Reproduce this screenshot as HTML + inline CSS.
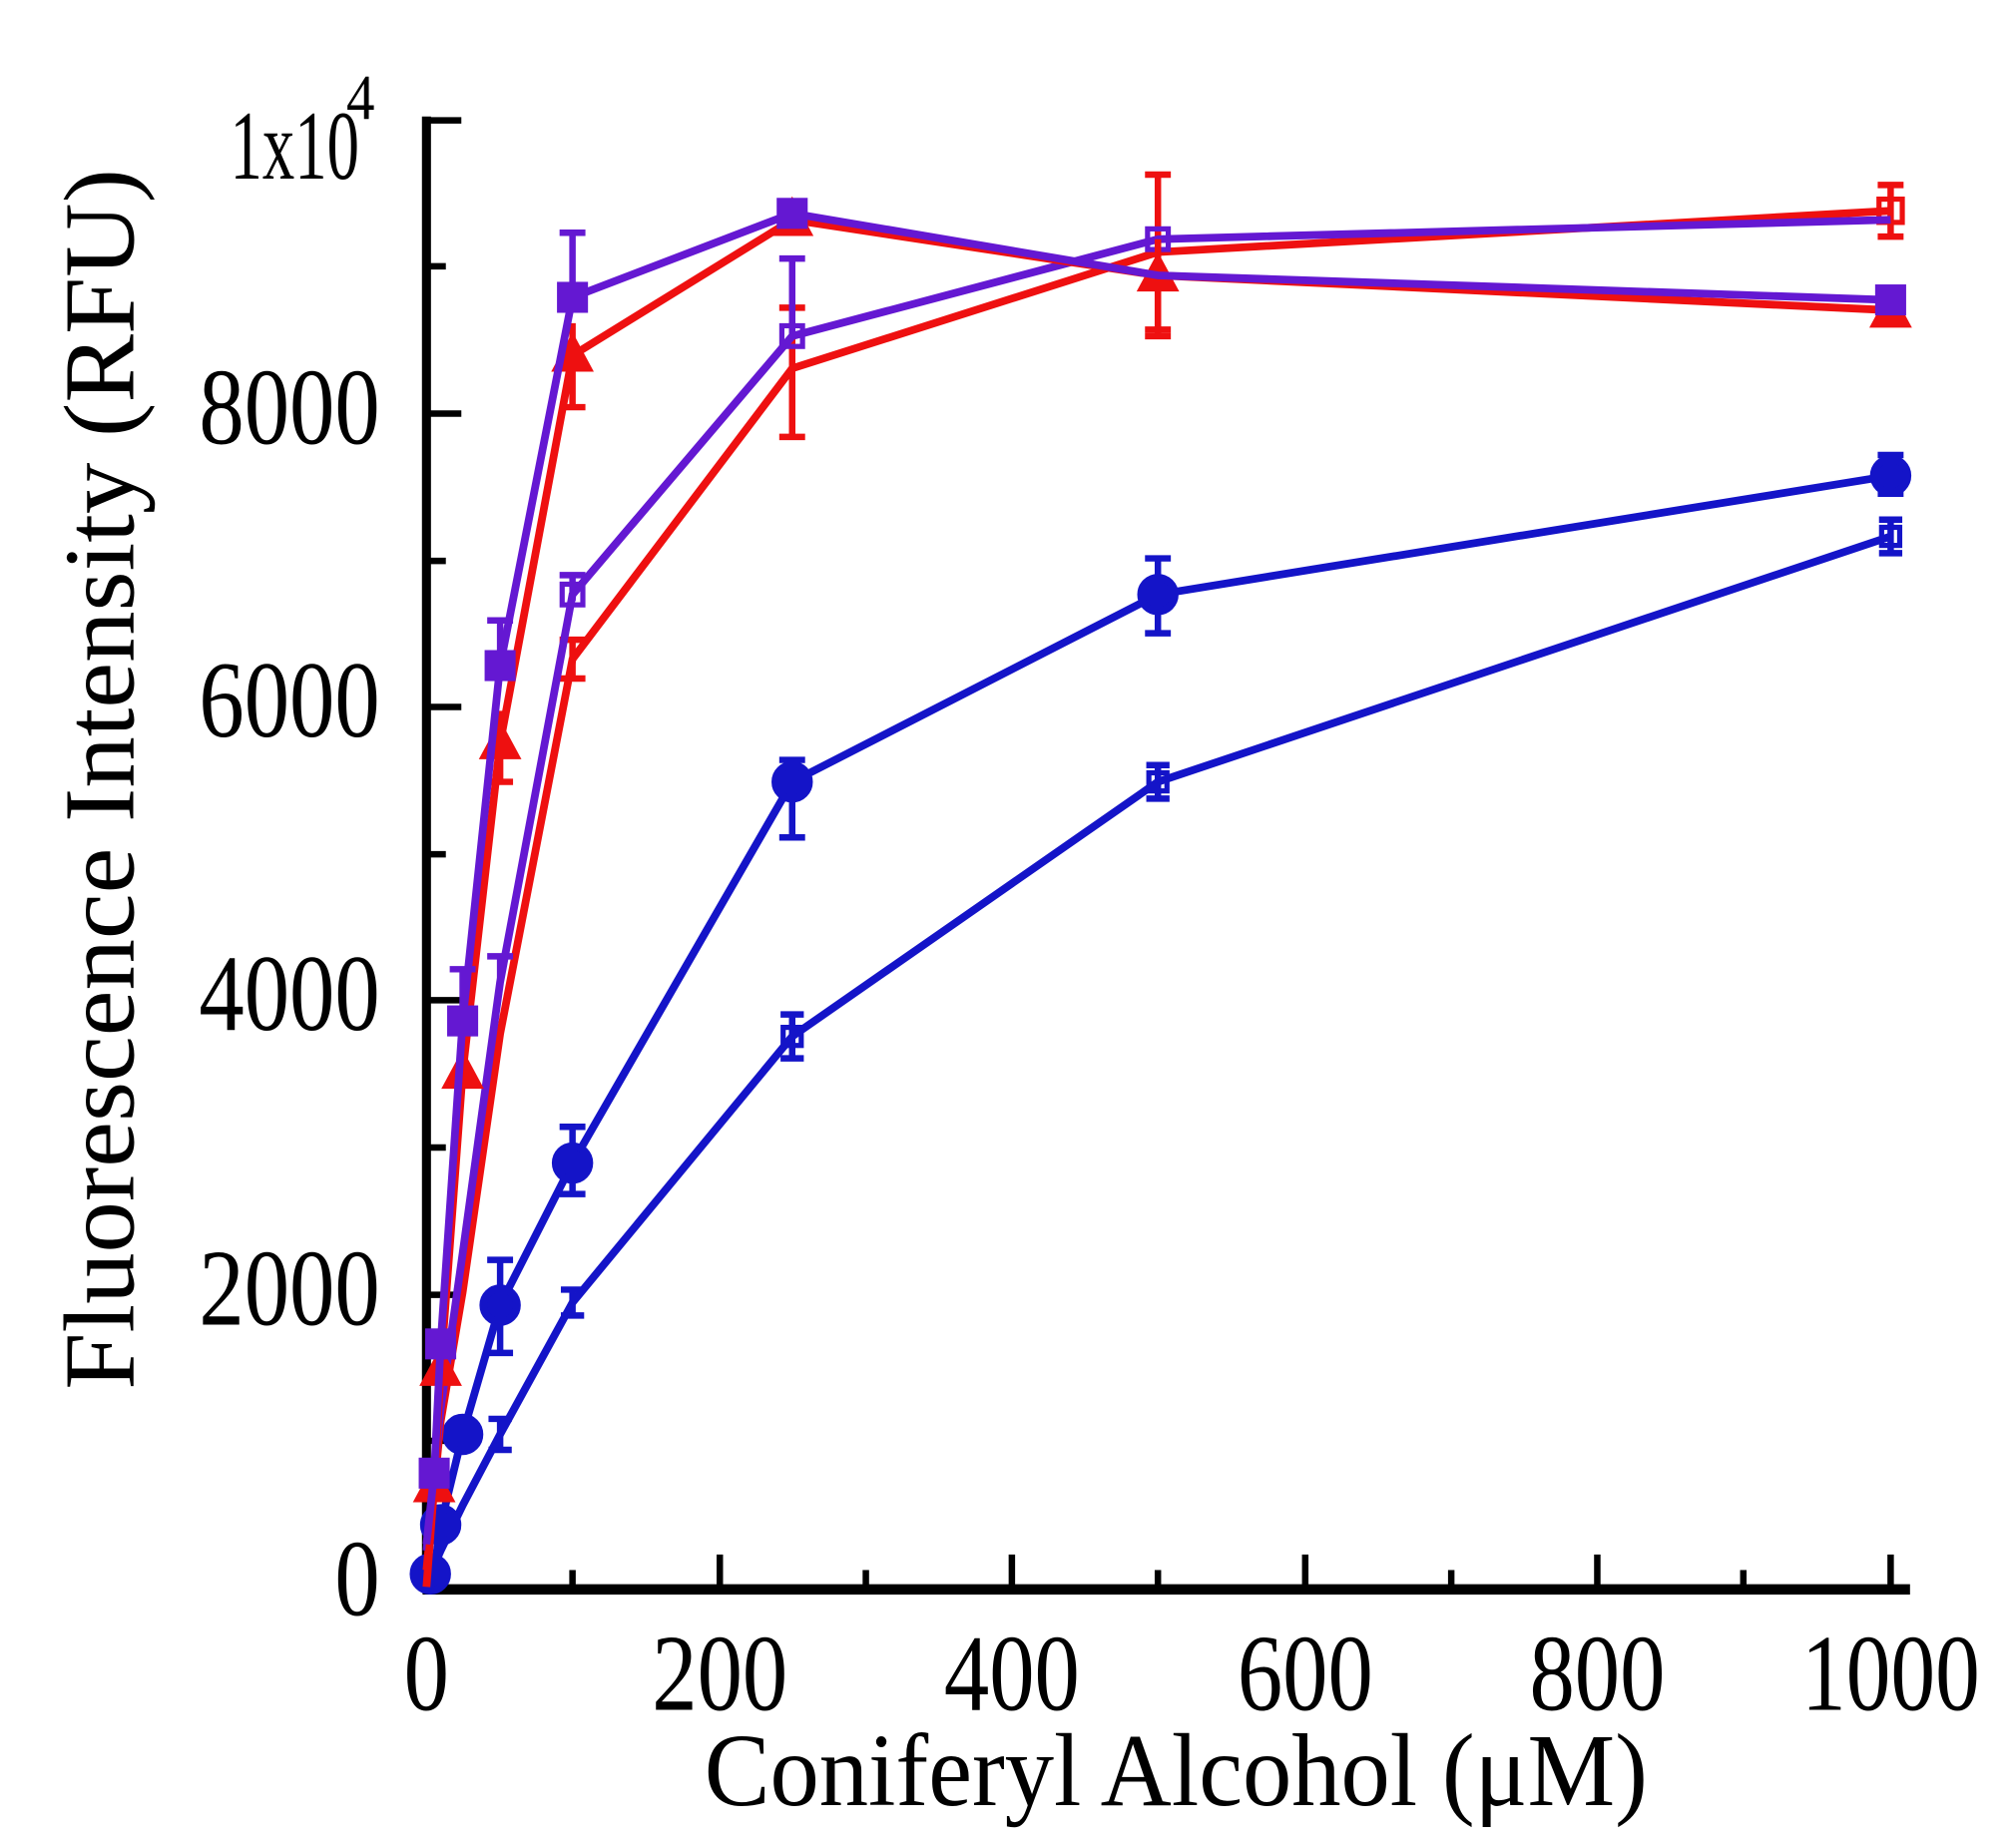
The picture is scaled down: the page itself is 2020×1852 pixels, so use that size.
<!DOCTYPE html>
<html><head><meta charset="utf-8"><style>html,body{margin:0;padding:0;background:#fff;}svg{display:block}</style></head>
<body>
<svg width="2020" height="1852" viewBox="0 0 1560 1430" xmlns="http://www.w3.org/2000/svg" font-family="Liberation Serif, serif">
<rect width="1560" height="1430" fill="#fff"/>
<line x1="330" y1="90" x2="330" y2="1232" stroke="#000" stroke-width="7"/>
<line x1="327" y1="1230" x2="1478" y2="1230" stroke="#000" stroke-width="8"/>
<g stroke="#000" stroke-width="5">
<line x1="330" y1="93" x2="357" y2="93"/>
<line x1="330" y1="206" x2="345" y2="206"/>
<line x1="330" y1="320" x2="357" y2="320"/>
<line x1="330" y1="434" x2="345" y2="434"/>
<line x1="330" y1="547" x2="357" y2="547"/>
<line x1="330" y1="661" x2="345" y2="661"/>
<line x1="330" y1="774" x2="357" y2="774"/>
<line x1="330" y1="888" x2="345" y2="888"/>
<line x1="330" y1="1002" x2="357" y2="1002"/>
<line x1="330" y1="1115" x2="345" y2="1115"/>
<line x1="443" y1="1230" x2="443" y2="1215"/>
<line x1="557" y1="1230" x2="557" y2="1203"/>
<line x1="670" y1="1230" x2="670" y2="1215"/>
<line x1="783" y1="1230" x2="783" y2="1203"/>
<line x1="896" y1="1230" x2="896" y2="1215"/>
<line x1="1010" y1="1230" x2="1010" y2="1203"/>
<line x1="1123" y1="1230" x2="1123" y2="1215"/>
<line x1="1236" y1="1230" x2="1236" y2="1203"/>
<line x1="1349" y1="1230" x2="1349" y2="1215"/>
<line x1="1463" y1="1230" x2="1463" y2="1203"/>
</g>
<g font-size="84" fill="#000">
<text x="294" y="343" text-anchor="end" textLength="140" lengthAdjust="spacingAndGlyphs">8000</text>
<text x="294" y="570" text-anchor="end" textLength="140" lengthAdjust="spacingAndGlyphs">6000</text>
<text x="294" y="797" text-anchor="end" textLength="140" lengthAdjust="spacingAndGlyphs">4000</text>
<text x="294" y="1025" text-anchor="end" textLength="140" lengthAdjust="spacingAndGlyphs">2000</text>
<text x="294" y="1250" text-anchor="end" textLength="35" lengthAdjust="spacingAndGlyphs">0</text>
<text x="178" y="138" textLength="100" lengthAdjust="spacingAndGlyphs" font-size="76">1x10</text>
<text x="268" y="92" font-size="50" textLength="22" lengthAdjust="spacingAndGlyphs">4</text>
<text x="330" y="1323" text-anchor="middle" textLength="35" lengthAdjust="spacingAndGlyphs">0</text>
<text x="557" y="1323" text-anchor="middle" textLength="105" lengthAdjust="spacingAndGlyphs">200</text>
<text x="783" y="1323" text-anchor="middle" textLength="105" lengthAdjust="spacingAndGlyphs">400</text>
<text x="1010" y="1323" text-anchor="middle" textLength="105" lengthAdjust="spacingAndGlyphs">600</text>
<text x="1236" y="1323" text-anchor="middle" textLength="105" lengthAdjust="spacingAndGlyphs">800</text>
<text x="1463" y="1323" text-anchor="middle" textLength="138" lengthAdjust="spacingAndGlyphs">1000</text>
</g>
<text x="910" y="1397" text-anchor="middle" font-size="80" textLength="730" lengthAdjust="spacingAndGlyphs">Coniferyl Alcohol (μM)</text>
<text transform="translate(103,603) rotate(-90)" text-anchor="middle" font-size="78" textLength="945" lengthAdjust="spacingAndGlyphs">Fluorescence Intensity (RFU)</text>

<g stroke="#1414c8" stroke-width="6" fill="none">
<polyline points="330,1225 341,1200 358,1165 387,1110 443,1008 613,802 896,605 1463,415"/>
<path stroke-width="5" d="M613,785v34M604,785h18M604,819h18 M896,592v26M887,592h18M887,618h18 M1463,402v26M1454,402h18M1454,428h18 M443,998v20M434,998h18M434,1018h18 M387,1098v24M378,1098h18M378,1122h18"/>
<rect x="606" y="795" width="14" height="14" stroke-width="4"/><rect x="889" y="598" width="14" height="14" stroke-width="4"/><rect x="1456" y="408" width="14" height="14" stroke-width="4"/>
</g>
<g stroke="#1414c8" stroke-width="6" fill="#1414c8">
<polyline fill="none" points="330,1220 336,1215 341,1180 358,1110 387,1010 443,900 613,605 896,460 1463,368"/>
<path fill="none" stroke-width="5" d="M613,588v60M603,588h20M603,648h20 M896,432v58M886,432h20M886,490h20 M443,872v52M433,872h20M433,924h20 M387,975v72M377,975h20M377,1047h20 M1463,352v30M1453,352h20M1453,382h20"/>
<circle cx="613" cy="605" r="13"/><circle cx="896" cy="460" r="13"/><circle cx="1463" cy="368" r="13"/><circle cx="443" cy="900" r="13"/><circle cx="387" cy="1010" r="13"/><circle cx="358" cy="1110" r="13"/><circle cx="341" cy="1180" r="13"/><circle cx="333" cy="1218" r="13"/>
</g>
<g stroke="#ee1010" stroke-width="6" fill="none">
<polyline points="330,1215 341,1100 358,1000 387,800 443,510 613,285 896,195 1463,163"/>
<path stroke-width="5" d="M613,238v100M603,238h20M603,338h20 M896,135v120M886,135h20M886,255h20 M1463,143v40M1453,143h20M1453,183h20 M443,495v30M433,495h20M433,525h20"/>
<rect x="1454" y="154" width="18" height="18" stroke-width="4"/>
</g>
<g stroke="#6418d2" stroke-width="6" fill="none">
<polyline points="330,1200 341,1090 358,970 387,760 443,460 613,260 896,185 1463,170"/>
<path stroke-width="5" d="M613,200v60M603,200h20 M443,445v20M433,445h20 M387,740v20M377,740h20"/>
<rect x="605" y="252" width="16" height="16" stroke-width="4"/><rect x="888" y="177" width="16" height="16" stroke-width="4"/><rect x="435" y="452" width="16" height="16" stroke-width="4"/>
</g>
<g stroke="#ee1010" stroke-width="6" fill="#ee1010">
<polyline fill="none" points="330,1228 336,1150 341,1060 358,830 387,575 443,275 613,170 896,213 1463,240"/>
<path fill="none" stroke-width="5" d="M443,250v65M433,315h20 M387,550v55M377,605h20 M896,185v75M886,260h20 M1463,228v24"/>
<polygon stroke-width="3" points="443,260 457,286 429,286"/><polygon stroke-width="3" points="387,560 401,586 373,586"/><polygon stroke-width="3" points="358,815 372,841 344,841"/><polygon stroke-width="3" points="341,1045 355,1071 327,1071"/><polygon stroke-width="3" points="336,1135 350,1161 322,1161"/><polygon stroke-width="3" points="613,155 627,181 599,181"/><polygon stroke-width="3" points="896,198 910,224 882,224"/><polygon stroke-width="3" points="1463,226 1477,252 1449,252"/>
</g>
<g stroke="#6418d2" stroke-width="6" fill="#6418d2">
<polyline fill="none" points="330,1195 336,1140 341,1040 358,790 387,515 443,230 613,165 896,213 1463,232"/>
<path fill="none" stroke-width="5" d="M443,180v50M433,180h20 M387,480v35M377,480h20 M358,750v40M348,750h20"/>
<rect x="432" y="219" width="22" height="22" stroke-width="2"/><rect x="376" y="504" width="22" height="22" stroke-width="2"/><rect x="347" y="779" width="22" height="22" stroke-width="2"/><rect x="330" y="1029" width="22" height="22" stroke-width="2"/><rect x="325" y="1129" width="22" height="22" stroke-width="2"/><rect x="602" y="154" width="22" height="22" stroke-width="2"/><rect x="1452" y="221" width="22" height="22" stroke-width="2"/>
</g>
</svg>
</body></html>
